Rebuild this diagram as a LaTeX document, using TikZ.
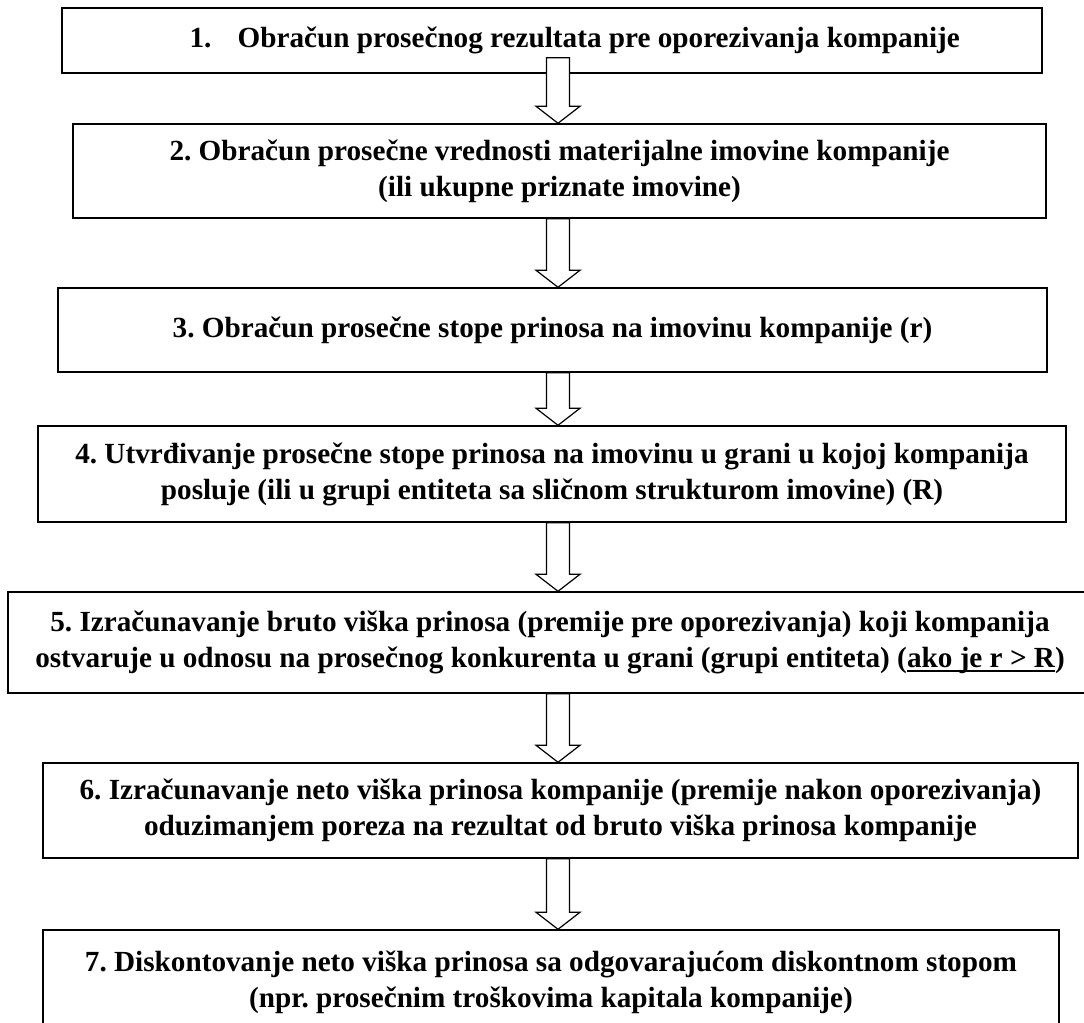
\documentclass[tikz,border=0pt]{standalone}
\usepackage{fontspec}
\setmainfont{Liberation Serif}
\usetikzlibrary{calc}
\frenchspacing

% heavy underline as in the source
\newlength{\ulwidth}
\newcommand{\ulheavy}[1]{\settowidth{\ulwidth}{#1}\rlap{\rule[-3.2pt]{\ulwidth}{1.6pt}}#1}

% hollow block arrow from the bottom of one stage to the top of the next
\newcommand{\stagearrow}[3]{%
    \coordinate (top) at ($(#1.south -| ax)+(0,#3)$);
    \coordinate (tip) at (#2.north -| ax);
    \draw[flow] ($(top)+(-11.5,0)$) -- ($(tip)+(-11.5,-17)$) -- ($(tip)+(-22,-17)$)
        -- (tip) -- ($(tip)+(22,-17)$) -- ($(tip)+(11.5,-17)$) -- ($(top)+(11.5,0)$) -- cycle;
}

\begin{document}
\begin{tikzpicture}[
    x=0.75pt, y=-0.75pt,
    stage/.style={draw, line width=1.1pt, align=center, inner sep=0pt,
        font=\fontsize{21.9}{27}\selectfont\bfseries},
    flow/.style={draw, line width=0.9pt, fill=white, line join=miter}
]
    \useasboundingbox (0,0) rectangle (1084,1023);
    \coordinate (ax) at (558,0);

    \node[stage, minimum width=735pt, minimum height=48.75pt] (b1) at (552,40.5)
        {\hspace*{34pt}1.\hspace{0.9em}Obračun prosečnog rezultata pre oporezivanja kompanije};
    \node[stage, minimum width=729.75pt, minimum height=70.5pt] (b2) at (559.5,171)
        {2. Obračun prosečne vrednosti materijalne imovine kompanije\\(ili ukupne priznate imovine)};
    \node[stage, minimum width=741.75pt, minimum height=63pt] (b3) at (552.5,330)
        {3. Obračun prosečne stope prinosa na imovinu kompanije (r)};
    \node[stage, minimum width=771pt, minimum height=72pt] (b4) at (552,474)
        {4. Utvrđivanje prosečne stope prinosa na imovinu u grani u kojoj kompanija\\posluje (ili u grupi entiteta sa sličnom strukturom imovine) (R)};
    \node[stage, minimum width=813pt, minimum height=75.75pt] (b5) at (550,642.5)
        {5. Izračunavanje bruto viška prinosa (premije pre oporezivanja) koji kompanija\\ostvaruje u odnosu na prosečnog konkurenta u grani (grupi entiteta) (\ulheavy{ako je r > R})};
    \node[stage, minimum width=776.25pt, minimum height=71.25pt] (b6) at (560.5,810.5)
        {6. Izračunavanje neto viška prinosa kompanije (premije nakon oporezivanja)\\oduzimanjem poreza na rezultat od bruto viška prinosa kompanije};
    \node[stage, minimum width=762pt, minimum height=78.75pt] (b7) at (551,982.5)
        {7. Diskontovanje neto viška prinosa sa odgovarajućom diskontnom stopom\\(npr. prosečnim troškovima kapitala kompanije)};

    \foreach \a/\b/\o in {b1/b2/-16, b2/b3/0, b3/b4/0, b4/b5/0, b5/b6/0, b6/b7/0}
        \stagearrow{\a}{\b}{\o};
\end{tikzpicture}
\end{document}
